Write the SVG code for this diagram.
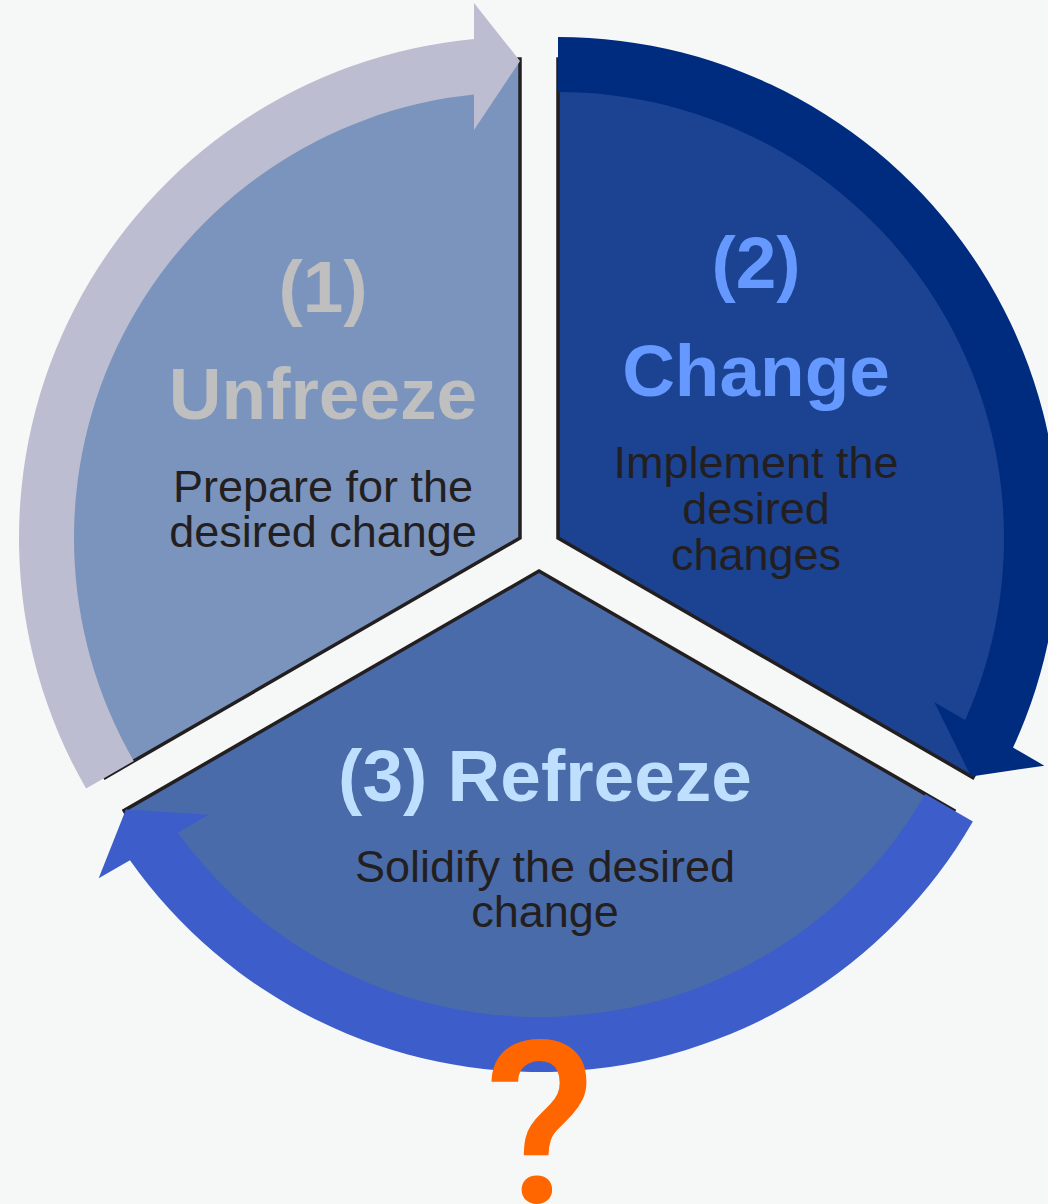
<svg xmlns="http://www.w3.org/2000/svg" width="1048" height="1204" viewBox="0 0 1048 1204">
  <style>
    .wedge { stroke: #231F20; stroke-width: 3.5; stroke-linejoin: miter; }
    .title { font-family: "Liberation Sans", Arial, Helvetica, sans-serif; font-weight: bold; font-size: 73px; text-anchor: middle; }
    .body { font-family: "Liberation Sans", Arial, Helvetica, sans-serif; font-size: 45px; fill: #231F20; text-anchor: middle; }
    .qmark { font-family: Roboto, "Liberation Sans", sans-serif; font-weight: 500; font-size: 226px; fill: #FF6600; text-anchor: middle; }
  </style>

  <!-- page background -->
  <rect x="0" y="0" width="1048" height="1204" fill="#F6F7F7"/>

  <!-- the three exploded wedges, each pulled 22px out from the common centre -->
  <g id="sectors">
    <g id="node-unfreeze">
      <path class="wedge" fill="#7B94BE" d="M 520 538 L 105.17 777.5 A 479 479 0 0 1 520 59 Z"/>
      <text class="title" x="323" y="312" fill="#BFBFBF">(1)</text>
      <text class="title" x="323" y="419" fill="#BFBFBF">Unfreeze</text>
      <text class="body" x="323" y="502">Prepare for the</text>
      <text class="body" x="323" y="547">desired change</text>
    </g>

    <g id="node-change">
      <path class="wedge" fill="#1B4391" d="M 558 538 L 558 59 A 479 479 0 0 1 972.83 777.5 Z"/>
      <text class="title" x="756" y="288" fill="#6699FF">(2)</text>
      <text class="title" x="756" y="396" fill="#6699FF">Change</text>
      <text class="body" x="756" y="478">Implement the</text>
      <text class="body" x="756" y="524">desired</text>
      <text class="body" x="756" y="570">changes</text>
    </g>

    <g id="node-refreeze">
      <path class="wedge" fill="#4A6BA9" d="M 539 571 L 953.83 810.5 A 479 479 0 0 1 124.17 810.5 Z"/>
      <text class="title" x="545" y="801" fill="#BFDFFF">(3) Refreeze</text>
      <text class="body" x="545" y="882">Solidify the desired</text>
      <text class="body" x="545" y="927">change</text>
    </g>
  </g>

  <!-- clockwise arc arrows along the rim of each wedge (band r 446..501) -->
  <g id="connectors">
    <path id="arrow-unfreeze-change" fill="#BCBDD0"
          d="M 86.12 788.5 A 501 501 0 0 1 474 39.12 L 474 3 L 520 61 L 474 130 L 474 94.38 A 446 446 0 0 0 133.75 761 Z"/>
    <path id="arrow-change-refreeze" fill="#002C7F"
          d="M 558 37 A 501 501 0 0 1 1013.04 747.6 L 1044.32 765.66 L 971.09 776.5 L 934.34 702.16 L 965.19 719.97 A 446 446 0 0 0 558 92 Z"/>
    <path id="arrow-refreeze-unfreeze" fill="#3C5DCA"
          d="M 972.88 821.5 A 501 501 0 0 1 129.96 860.28 L 98.68 878.34 L 125.91 809.5 L 208.66 814.84 L 177.81 832.65 A 446 446 0 0 0 925.25 794 Z"/>
  </g>

  <!-- open question under the cycle -->
  <text id="question" class="qmark" x="540" y="1203">?</text>
</svg>
